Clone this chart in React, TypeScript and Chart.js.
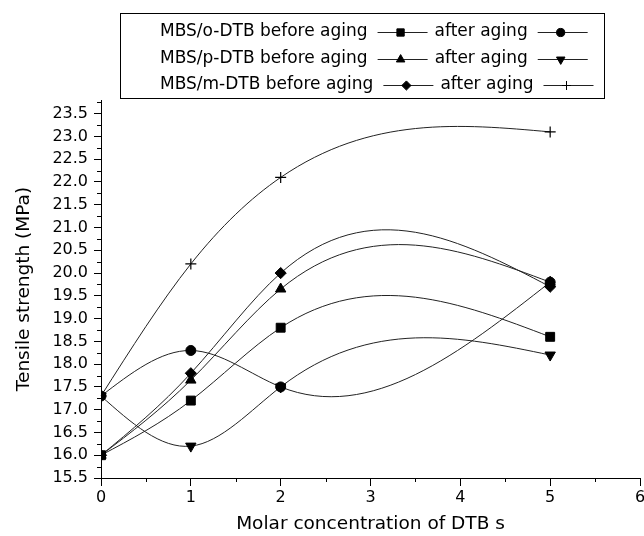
import { useEffect, useRef } from 'react';
import { Chart, registerables } from 'chart.js';
import { drawPoint } from 'chart.js/helpers';

Chart.register(...registerables);

// ---------- data ----------
const X_VALUES = [0, 1, 2, 5];
const O_BEFORE = [16.0, 17.2, 18.8, 18.6];
const O_AFTER = [17.3, 18.3, 17.5, 19.8];
const P_BEFORE = [16.0, 17.65, 19.65, 19.8];
const P_AFTER = [17.3, 16.2, 17.5, 18.2];
const M_BEFORE = [16.0, 17.8, 20.0, 19.7];
const M_AFTER = [17.3, 20.2, 22.1, 23.1];

const SERIES_LABELS = [
  'MBS/o-DTB before aging',
  'MBS/o-DTB after aging',
  'MBS/p-DTB before aging',
  'MBS/p-DTB after aging',
  'MBS/m-DTB before aging',
  'MBS/m-DTB after aging',
];
const LEGEND_LEFT = ['MBS/o-DTB before aging', 'MBS/p-DTB before aging', 'MBS/m-DTB before aging'];
const LEGEND_RIGHT = ['after aging', 'after aging', 'after aging'];

const X_TICKS = [0, 1, 2, 3, 4, 5, 6];
const X_MINOR_TICKS = [0.5, 1.5, 2.5, 3.5, 4.5, 5.5];
const Y_TICKS = [15.5, 16.0, 16.5, 17.0, 17.5, 18.0, 18.5, 19.0, 19.5, 20.0, 20.5, 21.0, 21.5, 22.0, 22.5, 23.0, 23.5];
const Y_MINOR_TICKS = [15.75, 16.25, 16.75, 17.25, 17.75, 18.25, 18.75, 19.25, 19.75, 20.25, 20.75, 21.25, 21.75, 22.25, 22.75, 23.25, 23.75];

const X_TITLE = 'Molar concentration of DTB s';
const Y_TITLE = 'Tensile strength (MPa)';

// ---------- styles ----------
const FONT = "'DejaVu Sans', 'Liberation Sans', sans-serif";
const MARKERS = [
  { pointStyle: 'rect', radius: 6.3, rotation: 0 },
  { pointStyle: 'circle', radius: 5, rotation: 0 },
  { pointStyle: 'triangle', radius: 6, rotation: 0 },
  { pointStyle: 'triangle', radius: 6, rotation: 180 },
  { pointStyle: 'rectRot', radius: 5.6, rotation: 0 },
  { pointStyle: 'cross', radius: 5.5, rotation: 0 },
];

const LEG = {
  boxX: 120,
  boxY: 13,
  boxH: 85,
  textX: 160,
  rowY: [32, 58.5, 85],
  fontSize: 17,
  gapBefore: 10,
  gapAfter: 7,
  symW: 50,
  markerAt: 23,
  padRight: 10,
};

// natural cubic spline through pixel points, drawn as bezier segments
function drawNaturalSpline(ctx: CanvasRenderingContext2D, pts: { x: number; y: number }[]) {
  const n = pts.length;
  if (n < 2) return;
  const h: number[] = [];
  for (let i = 0; i < n - 1; i++) h.push(pts[i + 1].x - pts[i].x);
  const M = new Array(n).fill(0);
  if (n > 2) {
    const a: number[] = [], b: number[] = [], c: number[] = [], d: number[] = [];
    for (let i = 1; i < n - 1; i++) {
      a.push(h[i - 1]);
      b.push(2 * (h[i - 1] + h[i]));
      c.push(h[i]);
      d.push(6 * ((pts[i + 1].y - pts[i].y) / h[i] - (pts[i].y - pts[i - 1].y) / h[i - 1]));
    }
    const m = b.length;
    for (let i = 1; i < m; i++) {
      const w = a[i] / b[i - 1];
      b[i] -= w * c[i - 1];
      d[i] -= w * d[i - 1];
    }
    const sol = new Array(m).fill(0);
    sol[m - 1] = d[m - 1] / b[m - 1];
    for (let i = m - 2; i >= 0; i--) sol[i] = (d[i] - c[i] * sol[i + 1]) / b[i];
    for (let i = 0; i < m; i++) M[i + 1] = sol[i];
  }
  ctx.beginPath();
  ctx.moveTo(pts[0].x, pts[0].y);
  for (let i = 0; i < n - 1; i++) {
    const hi = h[i];
    const dy = (pts[i + 1].y - pts[i].y) / hi;
    const s0 = dy - (hi * (2 * M[i] + M[i + 1])) / 6;
    const s1 = dy + (hi * (M[i] + 2 * M[i + 1])) / 6;
    ctx.bezierCurveTo(
      pts[i].x + hi / 3, pts[i].y + (s0 * hi) / 3,
      pts[i + 1].x - hi / 3, pts[i + 1].y - (s1 * hi) / 3,
      pts[i + 1].x, pts[i + 1].y
    );
  }
  ctx.stroke();
}

const splinePlugin = {
  id: 'naturalSpline',
  beforeDatasetsDraw(chart: any) {
    const ctx = chart.ctx as CanvasRenderingContext2D;
    ctx.save();
    ctx.strokeStyle = '#222';
    ctx.lineWidth = 1;
    chart.data.datasets.forEach((_: any, i: number) => {
      const meta = chart.getDatasetMeta(i);
      const pts = meta.data.map((p: any) => ({ x: p.x, y: p.y }));
      drawNaturalSpline(ctx, pts);
    });
    ctx.restore();
  },
};

const minorTickPlugin = {
  id: 'minorTicks',
  afterDraw(chart: any) {
    const ctx = chart.ctx as CanvasRenderingContext2D;
    const xs = chart.scales.x;
    const ys = chart.scales.y;
    const area = chart.chartArea;
    ctx.save();
    ctx.strokeStyle = '#000';
    ctx.lineWidth = 1;
    ctx.beginPath();
    Y_MINOR_TICKS.forEach((v) => {
      const y = Math.round(ys.getPixelForValue(v)) + 0.5;
      ctx.moveTo(area.left - 4, y);
      ctx.lineTo(area.left, y);
    });
    X_MINOR_TICKS.forEach((v) => {
      const x = Math.round(xs.getPixelForValue(v)) + 0.5;
      ctx.moveTo(x, area.bottom);
      ctx.lineTo(x, area.bottom + 4);
    });
    ctx.stroke();
    ctx.restore();
  },
};

const legendPlugin = {
  id: 'boxLegend',
  afterDraw(chart: any) {
    const ctx = chart.ctx as CanvasRenderingContext2D;
    ctx.save();
    ctx.font = `${LEG.fontSize}px ${FONT}`;
    ctx.textBaseline = 'middle';
    ctx.textAlign = 'left';
    let maxRight = 0;
    LEGEND_LEFT.forEach((leftText, r) => {
      const y = LEG.rowY[r];
      let x = LEG.textX;
      const texts = [leftText, LEGEND_RIGHT[r]];
      for (let k = 0; k < 2; k++) {
        const t = texts[k];
        ctx.fillStyle = '#000';
        ctx.fillText(t, x, y);
        x += ctx.measureText(t).width + LEG.gapBefore;
        const mk = MARKERS[r * 2 + k];
        const yy = Math.round(y) + 0.5;
        ctx.strokeStyle = '#222';
        ctx.lineWidth = 1;
        ctx.beginPath();
        ctx.moveTo(x, yy);
        ctx.lineTo(x + LEG.symW, yy);
        ctx.stroke();
        ctx.fillStyle = '#000';
        ctx.strokeStyle = '#000';
        drawPoint(ctx, { pointStyle: mk.pointStyle as any, rotation: mk.rotation, radius: mk.radius * 0.82, borderWidth: 1 }, x + LEG.markerAt, yy);
        x += LEG.symW;
        if (x > maxRight) maxRight = x;
        x += LEG.gapAfter;
      }
    });
    ctx.strokeStyle = '#000';
    ctx.lineWidth = 1;
    ctx.strokeRect(LEG.boxX + 0.5, LEG.boxY + 0.5, Math.round(maxRight + LEG.padRight - LEG.boxX), LEG.boxH);
    ctx.restore();
  },
};

const SERIES = [O_BEFORE, O_AFTER, P_BEFORE, P_AFTER, M_BEFORE, M_AFTER];

export default function App() {
  const ref = useRef<HTMLCanvasElement>(null);
  useEffect(() => {
    if (!ref.current) return;
    const datasets = SERIES.map((ys, i) => ({
      label: SERIES_LABELS[i],
      data: X_VALUES.map((x, j) => ({ x, y: ys[j] })),
      showLine: false,
      pointStyle: MARKERS[i].pointStyle as any,
      pointRadius: MARKERS[i].radius,
      pointRotation: MARKERS[i].rotation,
      pointBackgroundColor: '#000',
      pointBorderColor: '#000',
      pointBorderWidth: MARKERS[i].pointStyle === 'cross' ? 1.2 : 1,
      pointHoverRadius: MARKERS[i].radius,
    }));
    const chart = new Chart(ref.current, {
      type: 'scatter',
      data: { datasets },
      options: {
        responsive: false,
        animation: false,
        devicePixelRatio: 1,
        events: [],
        layout: { padding: { top: 100, right: 20, left: 0, bottom: 0 } },
        plugins: { legend: { display: false }, tooltip: { enabled: false } },
        scales: {
          x: {
            type: 'linear',
            min: 0,
            max: 6,
            afterBuildTicks: (s: any) => {
              s.ticks = X_TICKS.map((v) => ({ value: v }));
            },
            afterFit: (s: any) => {
              s.height = 58;
            },
            ticks: {
              color: '#000',
              font: { family: FONT, size: 16 },
              padding: 2,
              maxRotation: 0,
              callback: (v: any) => String(v),
            },
            grid: { drawOnChartArea: false, drawTicks: true, tickLength: 8, color: '#000', tickColor: '#000' },
            border: { display: true, color: '#000', width: 1 },
            title: {
              display: true,
              text: X_TITLE,
              color: '#000',
              font: { family: FONT, size: 18.5 },
              padding: { top: 0, bottom: 1 },
            },
          },
          y: {
            type: 'linear',
            min: 15.5,
            max: 23.8,
            afterBuildTicks: (s: any) => {
              s.ticks = Y_TICKS.map((v) => ({ value: v }));
            },
            afterFit: (s: any) => {
              s.width = 101;
            },
            ticks: {
              color: '#000',
              font: { family: FONT, size: 16 },
              padding: 6,
              callback: (v: any) => Number(v).toFixed(1),
            },
            grid: { drawOnChartArea: false, drawTicks: true, tickLength: 7, color: '#000', tickColor: '#000' },
            border: { display: true, color: '#000', width: 1 },
            title: {
              display: true,
              text: Y_TITLE,
              color: '#000',
              font: { family: FONT, size: 18.5 },
              padding: { top: 13, bottom: 0 },
            },
          },
        },
      },
      plugins: [splinePlugin, minorTickPlugin, legendPlugin],
    });
    return () => chart.destroy();
  }, []);
  return (
    <div style={{ position: 'fixed', left: 0, top: 0, width: 644, height: 536, overflow: 'hidden', background: '#fff' }}>
      <canvas ref={ref} width={660} height={536} style={{ display: 'block' }} />
    </div>
  );
}
